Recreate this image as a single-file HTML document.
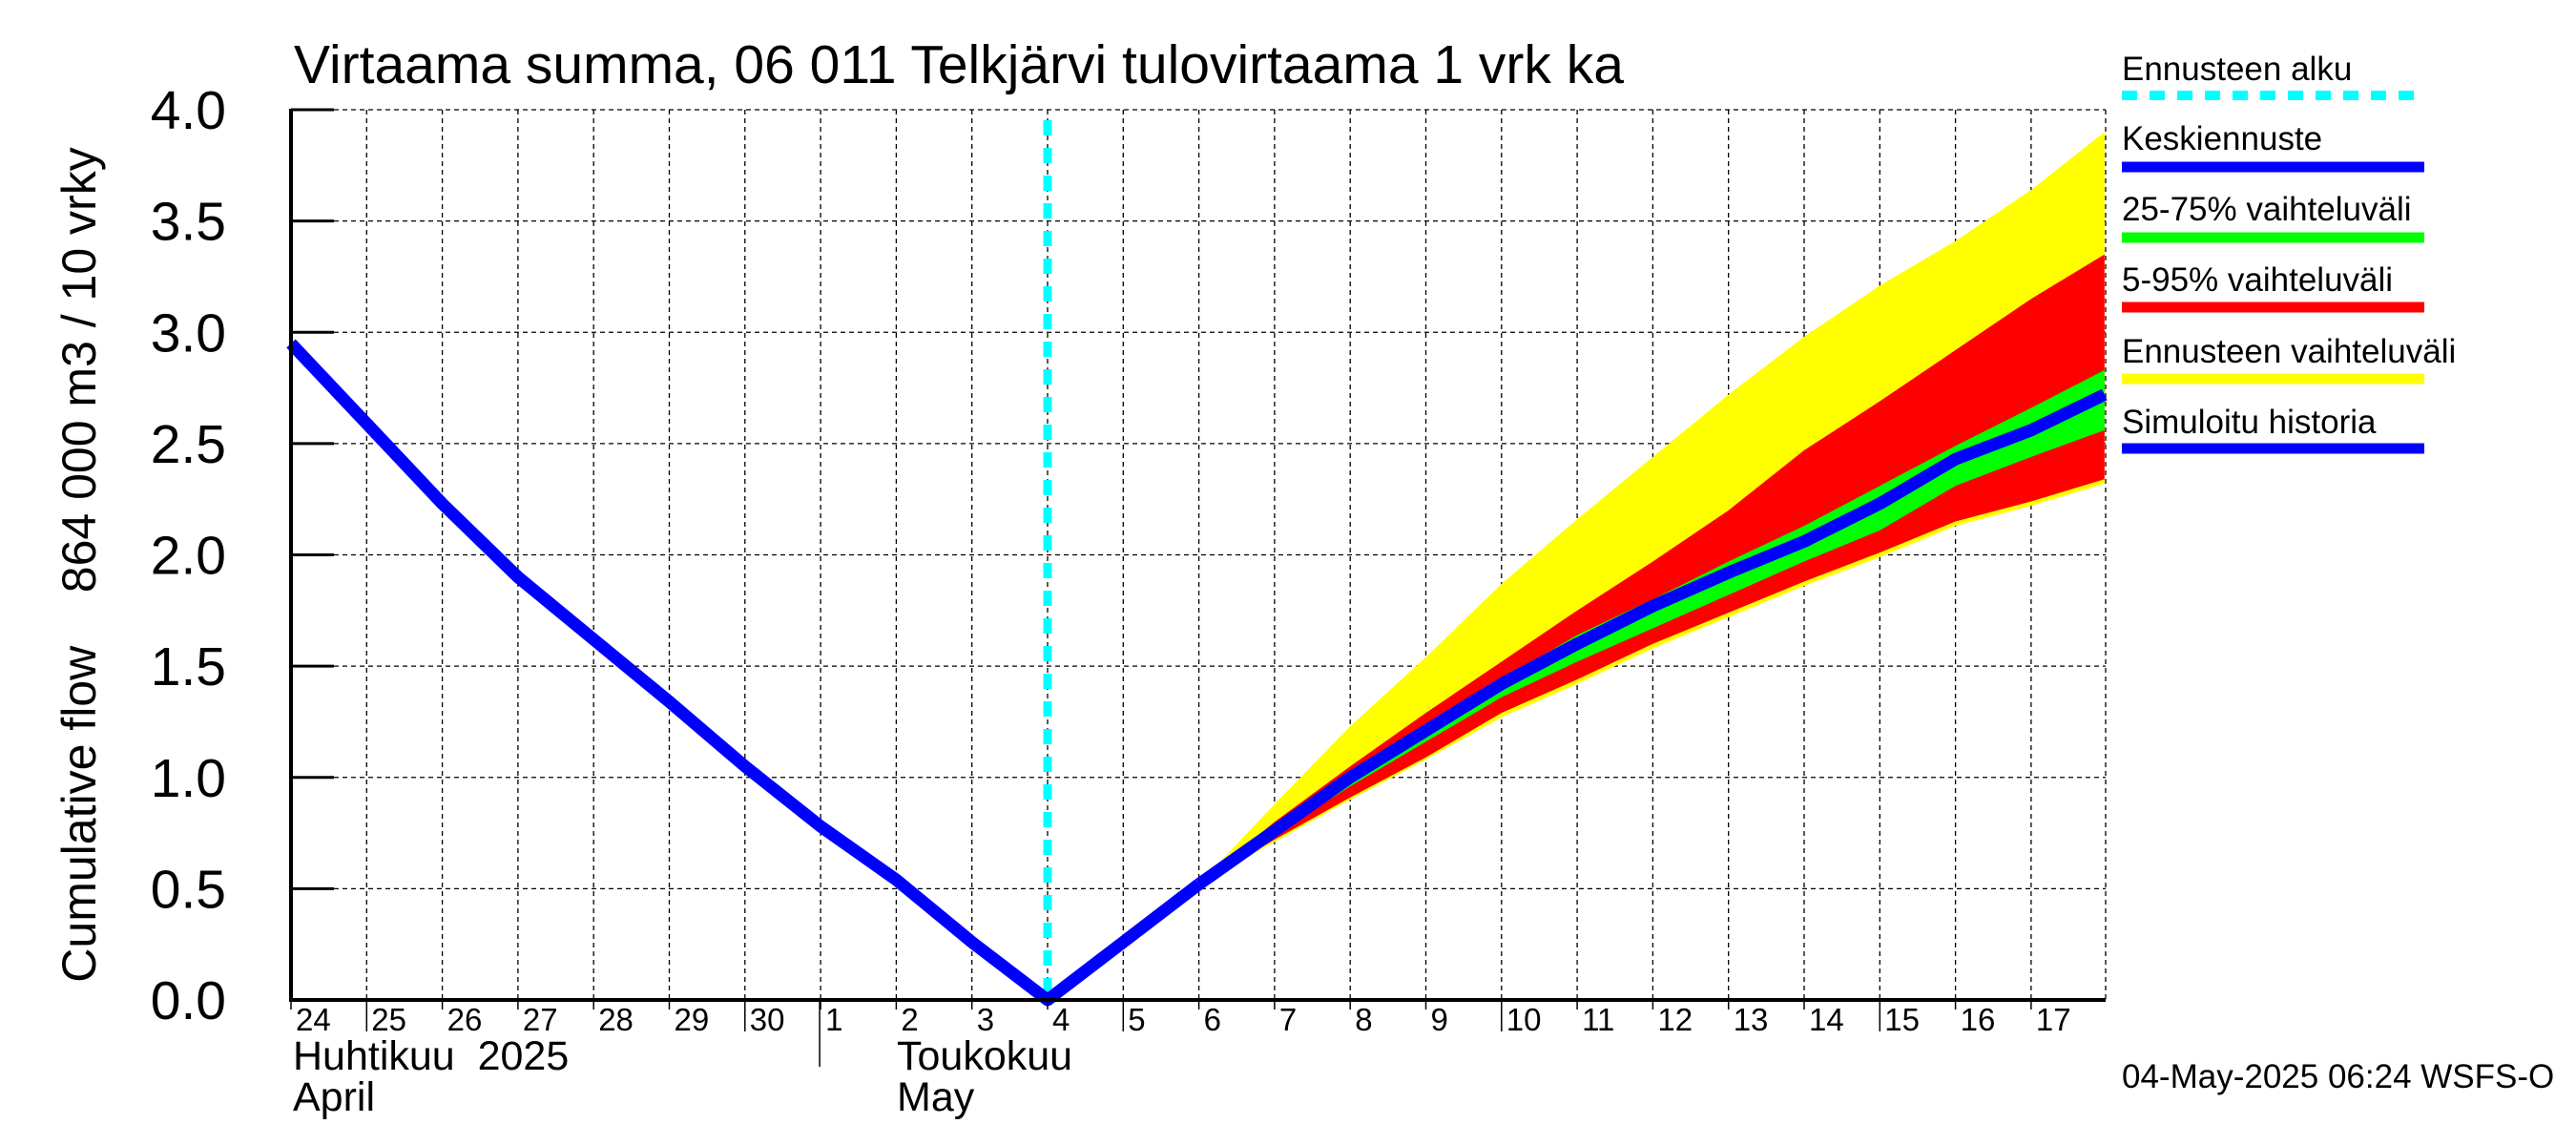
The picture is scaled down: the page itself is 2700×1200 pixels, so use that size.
<!DOCTYPE html>
<html><head><meta charset="utf-8"><style>
html,body{margin:0;padding:0;background:#fff}
svg{display:block;font-family:"Liberation Sans",sans-serif}
</style></head><body>
<svg id="chart" xmlns="http://www.w3.org/2000/svg" width="2700" height="1200" viewBox="0 0 2700 1200">
<rect width="2700" height="1200" fill="#fff"/>
<text x="308" y="87" font-size="57">Virtaama summa, 06 011 Telkjärvi tulovirtaama 1 vrk ka</text>
<text transform="translate(100,592) rotate(-90)" text-anchor="middle" font-size="50" xml:space="preserve">Cumulative flow    864 000 m3 / 10 vrky</text>
<g id="grid"></g>
<g id="bands"></g>
<g id="lines"></g>
<g id="axes"></g>
<g id="legend">
 <text x="2224" y="84" font-size="35">Ennusteen alku</text>
 <line x1="2224" x2="2541" y1="100" y2="100" stroke="#00ffff" stroke-width="10" stroke-dasharray="16,13"/>
 <text x="2224" y="157" font-size="35">Keskiennuste</text>
 <line x1="2224" x2="2541" y1="175" y2="175" stroke="#0000ff" stroke-width="11"/>
 <text x="2224" y="231" font-size="35">25-75% vaihteluväli</text>
 <line x1="2224" x2="2541" y1="249" y2="249" stroke="#00ff00" stroke-width="11"/>
 <text x="2224" y="305" font-size="35">5-95% vaihteluväli</text>
 <line x1="2224" x2="2541" y1="322" y2="322" stroke="#ff0000" stroke-width="11"/>
 <text x="2224" y="380" font-size="35">Ennusteen vaihteluväli</text>
 <line x1="2224" x2="2541" y1="397" y2="397" stroke="#ffff00" stroke-width="11"/>
 <text x="2224" y="454" font-size="35">Simuloitu historia</text>
 <line x1="2224" x2="2541" y1="470" y2="470" stroke="#0000ff" stroke-width="11"/>
</g>
<text x="2224" y="1140" font-size="35">04-May-2025 06:24 WSFS-O</text>
<text x="307" y="1121" font-size="43" xml:space="preserve">Huhtikuu  2025</text>
<text x="307" y="1164" font-size="43">April</text>
<text x="940" y="1121" font-size="43">Toukokuu</text>
<text x="940" y="1164" font-size="43">May</text>
</svg>
<script>
// ---- data ----
const dayLabels = ["24","25","26","27","28","29","30","1","2","3","4","5","6","7","8","9","10","11","12","13","14","15","16","17"];
const yTicks = [0.0,0.5,1.0,1.5,2.0,2.5,3.0,3.5,4.0];
const yTickLabels = ["0.0","0.5","1.0","1.5","2.0","2.5","3.0","3.5","4.0"];
const histDays = [0,1,2,3,4,5,6,7,8,9,10,11,12];
const histValues = [2.95,2.59,2.23,1.90,1.62,1.34,1.05,0.78,0.54,0.26,0.0,0.26,0.52];
const fcDays = [12,13,14,15,16,17,18,19,20,21,22,23,23.97];
const meanValues = [0.52,0.76,1.00,1.21,1.42,1.60,1.77,1.92,2.06,2.23,2.43,2.56,2.72];
const maxValues  = [0.52,0.88,1.23,1.54,1.87,2.16,2.44,2.72,2.98,3.21,3.41,3.64,3.90];
const p95Values  = [0.52,0.80,1.05,1.29,1.52,1.75,1.97,2.20,2.47,2.69,2.92,3.15,3.35];
const p75Values  = [0.52,0.77,1.01,1.23,1.44,1.64,1.80,1.97,2.13,2.31,2.49,2.66,2.83];
const p25Values  = [0.52,0.74,0.96,1.16,1.36,1.52,1.67,1.82,1.97,2.11,2.31,2.44,2.56];
const p5Values   = [0.52,0.72,0.91,1.09,1.29,1.44,1.60,1.74,1.88,2.01,2.15,2.24,2.34];
const minValues  = [0.52,0.71,0.90,1.08,1.27,1.42,1.58,1.72,1.86,1.99,2.13,2.22,2.32];
const forecastStartDay = 10;
const monthStartDay = 7;

// ---- axes ----
const X0 = 305, DAYW = 79.3, XEND = 2207, Y0 = 1048, YTOP = 115;
const xs = d => X0 + d * DAYW;
const ys = v => Y0 - (v / 4) * (Y0 - YTOP);
const NS = "http://www.w3.org/2000/svg";
function mk(tag, attrs, parent) {
  const e = document.createElementNS(NS, tag);
  for (const k in attrs) e.setAttribute(k, attrs[k]);
  parent.appendChild(e);
  return e;
}
const grid = document.getElementById('grid');
const bands = document.getElementById('bands');
const lines = document.getElementById('lines');
const axes = document.getElementById('axes');

yTicks.forEach((v, i) => {
  const g = mk('line', {x1: X0, x2: XEND, y1: ys(v), y2: ys(v), stroke: '#000', 'stroke-width': 1.3, 'stroke-dasharray': '5,4'}, grid);
  
  
  const t = mk('line', {x1: X0, x2: X0 + 45, y1: ys(v), y2: ys(v), stroke: '#000', 'stroke-width': 3}, axes);
  
  
  const l = mk('text', {x: 237, y: ys(v) + 20, 'text-anchor': 'end', 'font-size': 57}, axes);
  l.textContent = yTickLabels[i];
  
  
});
dayLabels.forEach((lab, i) => {
  const x = xs(i);
  if (i > 0) {
    const g = mk('line', {x1: x, x2: x, y1: YTOP, y2: Y0, stroke: '#000', 'stroke-width': 1.3, 'stroke-dasharray': '5,4'}, grid);
    
    
  }
  const long = (parseInt(lab) % 5 === 0);
  const t = mk('line', {x1: x, x2: x, y1: Y0, y2: Y0 + (long ? 33 : 10), stroke: '#000', 'stroke-width': 1.5}, axes);
  
  
  const l = mk('text', {x: x + 5, y: 1080, 'font-size': 33}, axes);
  l.textContent = lab;
  
  
});
const rb = mk('line', {x1: XEND, x2: XEND, y1: YTOP, y2: Y0, stroke: '#000', 'stroke-width': 1.3, 'stroke-dasharray': '5,4'}, grid);


const ms = mk('line', {x1: xs(monthStartDay) - 1, x2: xs(monthStartDay) - 1, y1: Y0, y2: 1118, stroke: '#000', 'stroke-width': 1.5}, axes);


const ya = mk('line', {x1: X0, x2: X0, y1: YTOP - 1, y2: Y0 + 2, stroke: '#000', 'stroke-width': 4}, axes);


const xa = mk('line', {x1: X0, x2: XEND, y1: Y0, y2: Y0, stroke: '#000', 'stroke-width': 4}, axes);



// ---- bands ----
function band(upper, lower, color, name) {
  let d = '';
  fcDays.forEach((dd, i) => { d += (i ? 'L' : 'M') + xs(dd) + ',' + ys(upper[i]); });
  for (let i = fcDays.length - 1; i >= 0; i--) d += 'L' + xs(fcDays[i]) + ',' + ys(lower[i]);
  const p = mk('path', {d: d + 'Z', fill: color}, bands);
  
  
}
band(maxValues, minValues, '#ffff00', 'forecast-range-band');
band(p95Values, p5Values, '#ff0000', 'band-5-95');
band(p75Values, p25Values, '#00ff00', 'band-25-75');

// ---- lines ----
const fs = mk('line', {x1: xs(forecastStartDay), x2: xs(forecastStartDay), y1: 126, y2: Y0, stroke: '#00ffff', 'stroke-width': 9, 'stroke-dasharray': '16,13'}, lines);


const hp = mk('polyline', {points: histDays.map((d, i) => xs(d) + ',' + ys(histValues[i])).join(' '), fill: 'none', stroke: '#0000ff', 'stroke-width': 13, 'stroke-linejoin': 'round'}, lines);


const mp = mk('polyline', {points: fcDays.map((d, i) => xs(d) + ',' + ys(meanValues[i])).join(' '), fill: 'none', stroke: '#0000ff', 'stroke-width': 13, 'stroke-linejoin': 'round'}, lines);


</script>
</body></html>
